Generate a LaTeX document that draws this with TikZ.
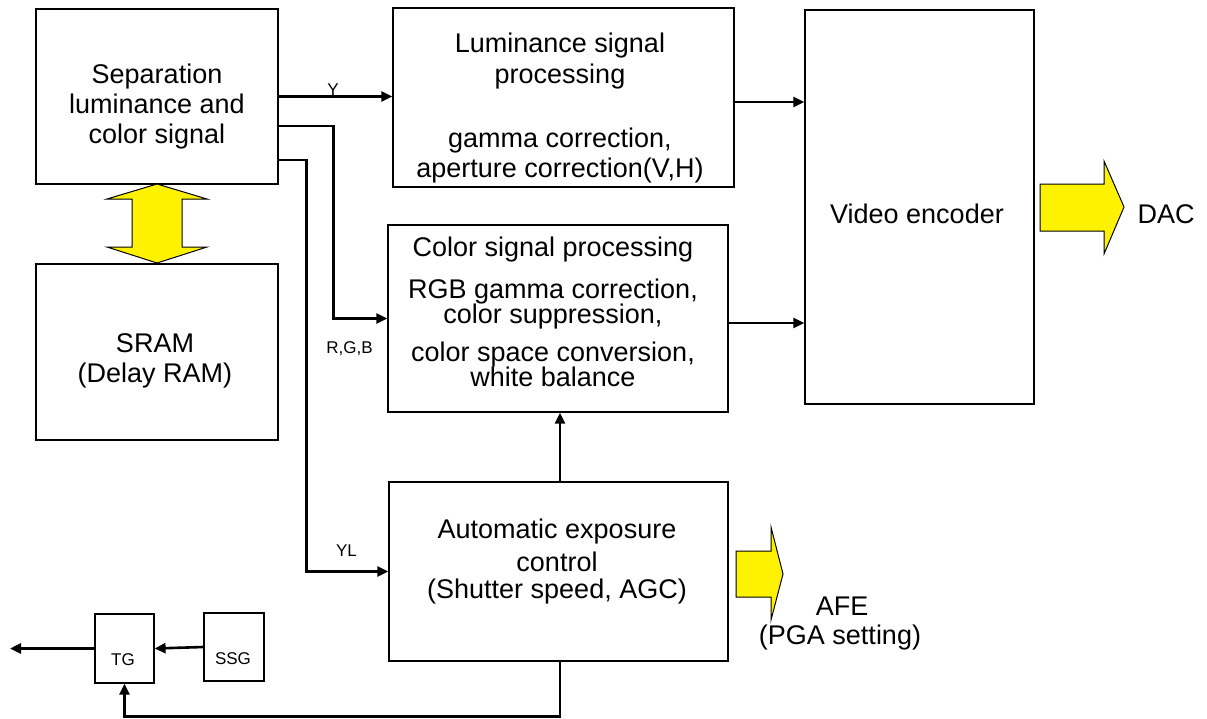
\documentclass[tikz,border=0pt]{standalone}
\usepackage{fontspec}
\setmainfont{Liberation Sans}
\usetikzlibrary{arrows.meta}
\begin{document}
\begin{tikzpicture}[x=1pt,y=-1pt,
  box/.style={draw, line width=1.2pt, inner sep=0pt},
  txt/.style={font=\fontsize{27}{30}\selectfont, anchor=base, inner sep=0pt},
  sml/.style={font=\fontsize{17}{20}\selectfont, anchor=base, inner sep=0pt},
  conn/.style={line width=2.6pt, -{Triangle[length=11pt,width=10pt]}},
  fat/.style={draw, fill=yellow, line width=1pt, line join=miter}]
\useasboundingbox (0,0) rectangle (1207,718);

% boxes
\node[box, minimum width=242pt, minimum height=175pt] (sep)  at (157,96.5) {};
\node[box, minimum width=242pt, minimum height=176pt] (sram) at (157,352) {};
\node[box, minimum width=341pt, minimum height=179pt] (lum)  at (563.5,97.5) {};
\node[box, minimum width=340pt, minimum height=187pt] (col)  at (558,318.5) {};
\node[box, minimum width=229pt, minimum height=394pt] (venc) at (919.5,207) {};
\node[box, minimum width=339pt, minimum height=179pt] (ae)   at (558.5,571.5) {};
\node[box, minimum width=59pt,  minimum height=69pt]  (tg)   at (124.5,648.5) {};
\node[box, minimum width=60pt,  minimum height=68pt]  (ssg)  at (234,647) {};

% texts
\node[txt] (sep1) at (157,83)  {Separation};
\node[txt] (sep2) at (157,113) {luminance and};
\node[txt] (sep3) at (157,143) {color signal};

\node[txt] (sram1) at (155,352) {SRAM};
\node[txt] (sram2) at (155,382) {(Delay RAM)};

\node[txt] (lum1) at (560,52)  {Luminance signal};
\node[txt] (lum2) at (560,83)  {processing};
\node[txt] (lum3) at (560,147) {gamma correction,};
\node[txt] (lum4) at (560,177) {aperture correction(V,H)};

\node[txt] (col1) at (553,256) {Color signal processing};
\node[txt] (col2) at (553,298) {RGB gamma correction,};
\node[txt] (col3) at (553,323) {color suppression,};
\node[txt] (col4) at (553,361) {color space conversion,};
\node[txt] (col5) at (553,386) {white balance};

\node[txt] (venct) at (917,223) {Video encoder};

\node[txt] (ae1) at (557,538) {Automatic exposure};
\node[txt] (ae2) at (557,571) {control};
\node[txt] (ae3) at (557,598) {(Shutter speed, AGC)};

\node[txt] (dac) at (1166,223) {DAC};
\node[txt] (afe1) at (842,615) {AFE};
\node[txt] (afe2) at (840,644) {(PGA setting)};

\node[sml] (tgt)  at (123,665) {TG};
\node[sml] (ssgt) at (233,664) {SSG};
\node[sml] (ylab) at (333,95)  {Y};
\node[sml] (rgb)  at (349.5,353) {R,G,B};
\node[sml] (yl)   at (346.5,556) {YL};

% connectors
\draw[conn] (sep.east) -- (sep.east -| lum.west);
\draw[conn] ([yshift=-29.5pt]sep.east) -- ++(55,0) |- (col.west);
\draw[conn] ([yshift=-63.5pt]sep.east) -- ++(28,0) |- (ae.west);
\draw[conn] ([yshift=-4.5pt]lum.east) -- ([yshift=-4.5pt]lum.east -| venc.west);
\draw[conn] ([yshift=-4.5pt]col.east) -- ([yshift=-4.5pt]col.east -| venc.west);
\draw[conn] ([xshift=1.5pt]ae.north) -- ([xshift=1.5pt]ae.north |- col.south);
\draw[conn] ([xshift=1.5pt]ae.south) -- ++(0,55) -| (tg.south);
\draw[conn] (ssg.west) -- (tg.east);
\coordinate (tgout) at (10,650);
\draw[conn] (tg.west) -- (tg.west -| tgout);

% yellow block arrows
\draw[fat] (157,184) -- (207,199) -- (182,199) -- (182,247) -- (207,247) -- (157,263)
  -- (107,247) -- (132,247) -- (132,199) -- (107,199) -- cycle;
\draw[fat] (1040,184) -- (1104,184) -- (1104,161) -- (1124,207) -- (1104,254) -- (1104,231)
  -- (1040,231) -- cycle;
\draw[fat] (736,551) -- (771,551) -- (771,527) -- (783,574) -- (771,620) -- (771,597)
  -- (736,597) -- cycle;
\end{tikzpicture}
\end{document}
